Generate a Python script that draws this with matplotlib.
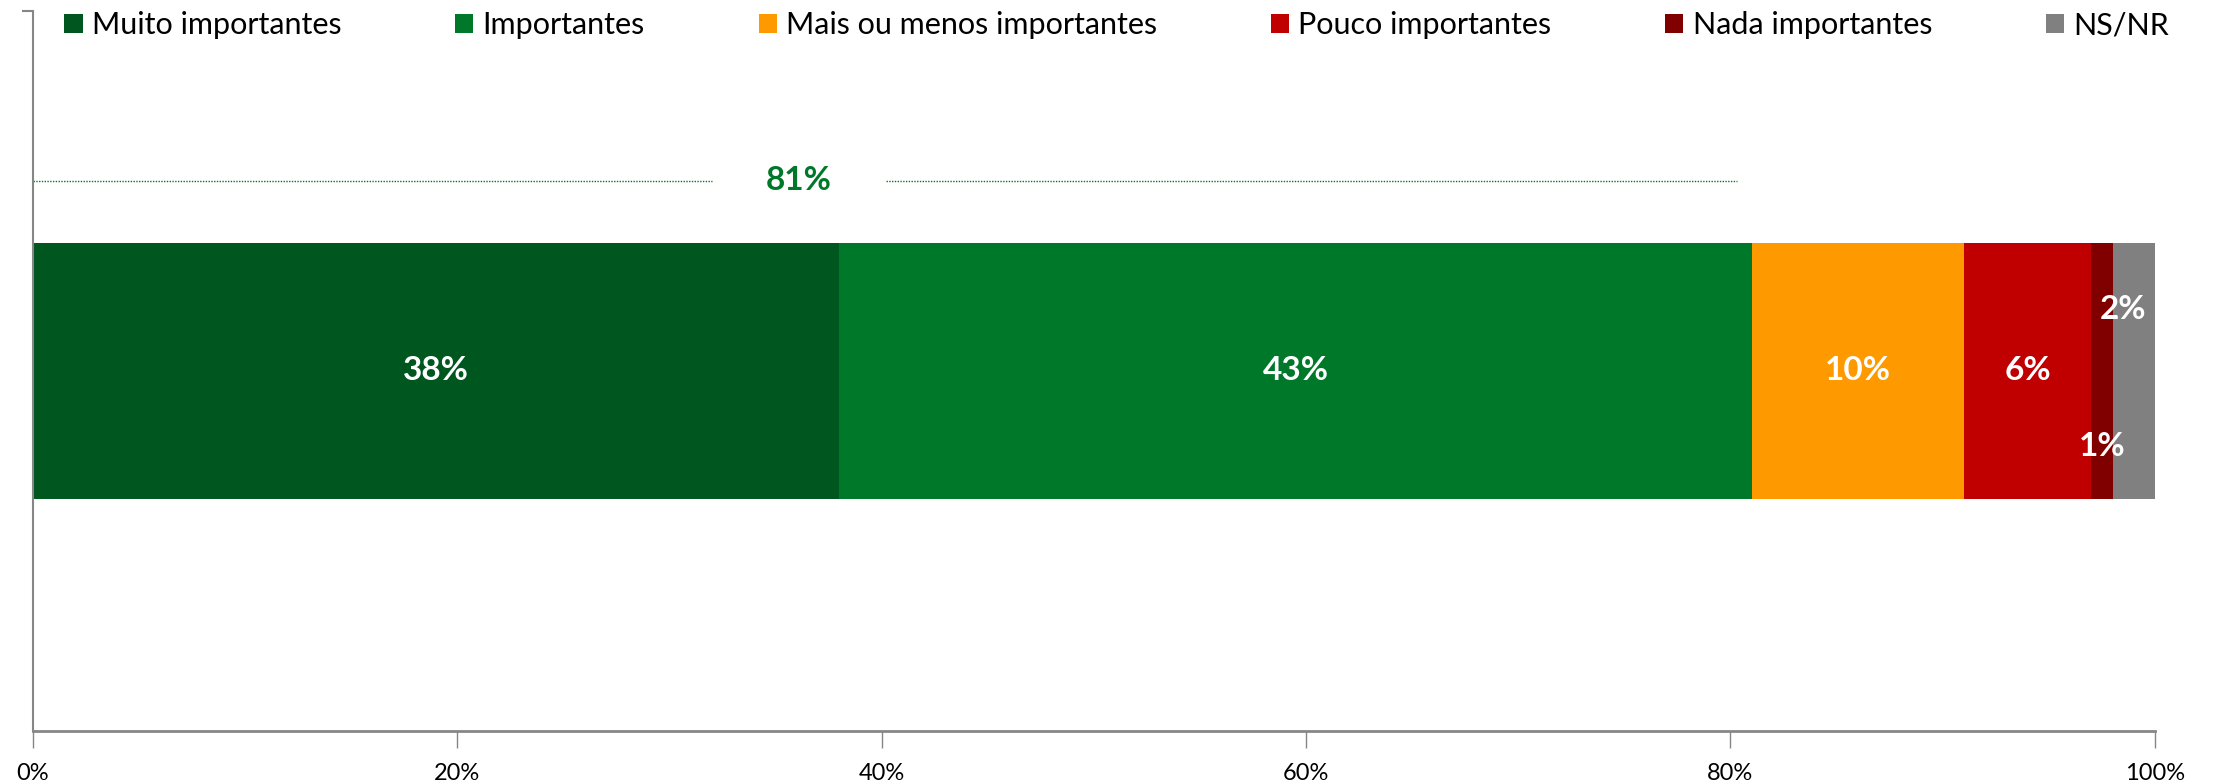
import matplotlib
matplotlib.use('Agg')
import matplotlib.pyplot as plt
from matplotlib.ticker import FuncFormatter

plt.rcParams['font.family'] = ['Lato', 'DejaVu Sans']

# Data
categories = ["Muito importantes", "Importantes", "Mais ou menos importantes",
              "Pouco importantes", "Nada importantes", "NS/NR"]
values = [38, 43, 10, 6, 1, 2]
colors = ["#00561F", "#00782A", "#FF9900", "#C00000", "#800000", "#808080"]
# vertical offset of the value label inside the bar (small segments are staggered)
label_offsets = [0, 0, 0, 0, -0.21, 0.17]
label_dx = [0, 0, 0, 0, 0, -0.5]
total_label = sum(values[:2])  # 81%

fig = plt.figure(figsize=(22.2, 7.84), dpi=100)
ax = fig.add_axes([0.0147, 0.068, 0.956, 0.918])

left = 0
bars = []
for cat, val, col, dy, dx in zip(categories, values, colors, label_offsets, label_dx):
    b = ax.barh(0, val, left=left, height=0.71, color=col, label=cat, zorder=2)
    bars.append(b)
    ax.text(left + val / 2 + dx, dy, f"{val}%", ha='center', va='center',
            color='white', fontsize=24, fontweight='bold', zorder=4)
    left += val

# bracket line for the sum of the two green segments
y_br = 0.528
ax.hlines(y_br, 0, 32, colors='#00782A', linestyles=(0, (1, 1)), linewidth=1)
ax.hlines(y_br, 40.2, total_label - 0.7, colors='#00782A', linestyles=(0, (1, 1)), linewidth=1)
ax.text(36.1, y_br, f"{total_label}%", ha='center', va='center',
        color='#00782A', fontsize=24, fontweight='bold')

ax.set_xlim(0, 100)
ax.set_ylim(-1, 1)
ax.set_xticks(range(0, 101, 20))
ax.xaxis.set_major_formatter(FuncFormatter(lambda v, p: f"{v:.0f}%"))
ax.tick_params(axis='x', length=12, width=1, color='#868686', labelsize=17,
               pad=11, direction='out')
ax.set_yticks([1])
ax.set_yticklabels([])
ax.tick_params(axis='y', length=8, width=1.5, color='#868686', direction='out')

for s in ['top', 'right']:
    ax.spines[s].set_visible(False)
ax.spines['left'].set_color('#868686')
ax.spines['left'].set_linewidth(1.5)
ax.spines['bottom'].set_color('#868686')
ax.spines['bottom'].set_linewidth(2)

fig.legend(handles=[b[0] for b in bars], labels=categories, ncol=6,
           loc='center left', bbox_to_anchor=(0.029, 0.968, 0.948, 0.0),
           mode='expand', frameon=False, fontsize=22,
           handlelength=0.6, handleheight=0.6, handletextpad=0.3,
           borderaxespad=0, borderpad=0)

fig.savefig('out.png', dpi=100, facecolor='white')
plt.close(fig)
